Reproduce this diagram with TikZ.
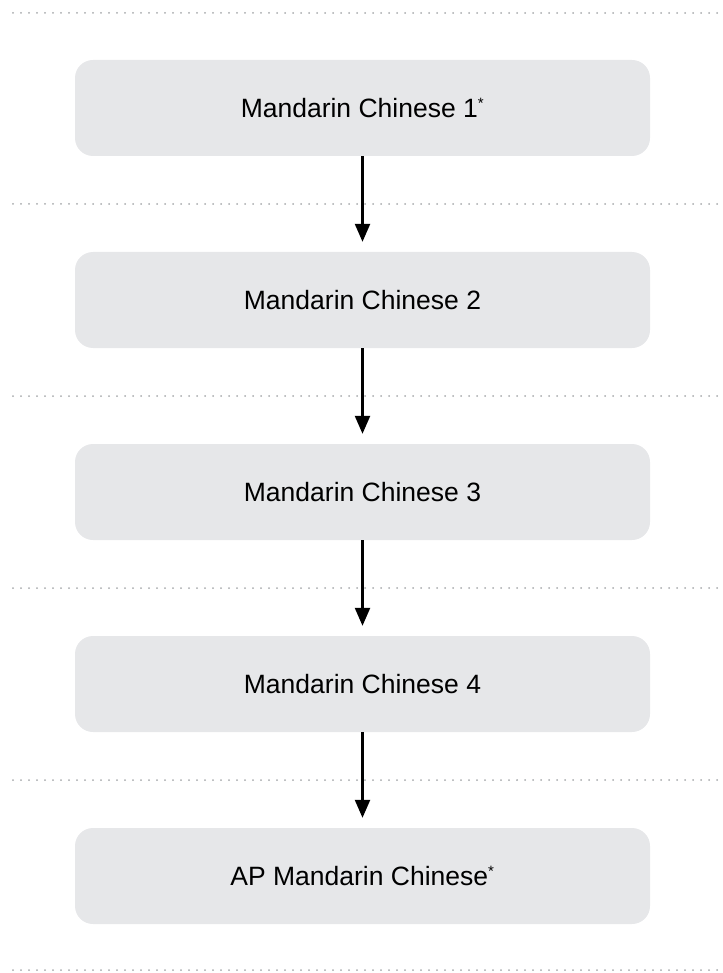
\documentclass[tikz,border=0pt]{standalone}
\usepackage{fontspec}
\setmainfont{Liberation Sans}
\usetikzlibrary{arrows.meta}
\definecolor{boxgray}{HTML}{E6E7E9}
\definecolor{dotgray}{HTML}{A7A9AC}
\tikzset{
  course/.style={fill=boxgray, rounded corners=18pt, minimum width=575pt, minimum height=96pt, inner sep=0pt, font=\fontsize{26.5}{30}\selectfont, text=black},
  sep/.style={dotgray, line width=2pt, dash pattern=on 0pt off 8pt, line cap=round},
  flow/.style={line width=2.4pt, -{Triangle[length=18pt,width=15pt]}, shorten >=10pt}
}
\newcommand{\mystar}{\textsuperscript{\fontsize{15}{15}\selectfont *}}
\begin{document}
\begin{tikzpicture}[x=1pt,y=-1pt]
\useasboundingbox (0,0) rectangle (722,973);
\foreach \yy/\nm in {13/s0,204/s1,396/s2,588/s3,780/s4,970/s5}{
  \coordinate (\nm l) at (13,\yy);
  \coordinate (\nm r) at (722,\yy);
  \draw[sep] (\nm l) -- (\nm r);
}
\node[course] (c1) at (362.5,108) {Mandarin Chinese 1\mystar};
\node[course] (c2) at (362.5,300) {Mandarin Chinese 2};
\node[course] (c3) at (362.5,492) {Mandarin Chinese 3};
\node[course] (c4) at (362.5,684) {Mandarin Chinese 4};
\node[course] (c5) at (362.5,876) {AP Mandarin Chinese\mystar};
\draw[flow] (c1.south) -- (c2.north);
\draw[flow] (c2.south) -- (c3.north);
\draw[flow] (c3.south) -- (c4.north);
\draw[flow] (c4.south) -- (c5.north);
\end{tikzpicture}
\end{document}
